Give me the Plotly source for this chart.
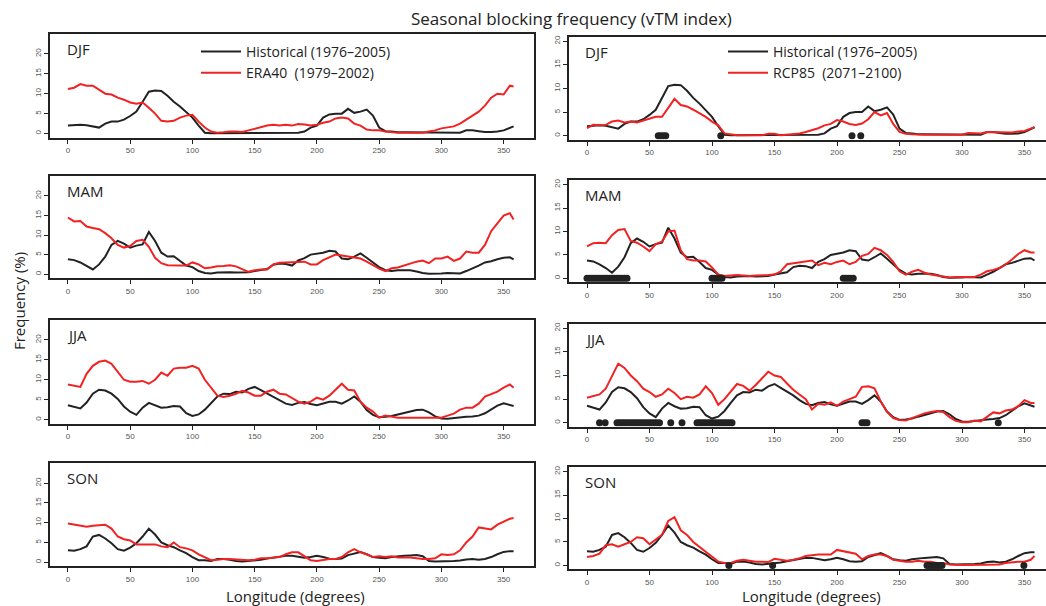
import plotly.graph_objects as go

# ---------------- data ----------------
seasons = ["DJF", "MAM", "JJA", "SON"]
lon = list(range(0, 360, 5)) + [358]
xticks = [0, 50, 100, 150, 200, 250, 300, 350]
yticks = [0, 5, 10, 15, 20]

hist_djf = [2, 2.1, 2.2, 2.1, 1.8, 1.5, 2.5, 3, 3, 3.5, 4.4, 5.5,
            8, 10.5, 10.8, 10.7, 9.5, 8, 6.8, 5.5, 4, 2, 0.2, 0.1,
            0.1, 0.1, 0.1, 0.1, 0.1, 0.1, 0.1, 0.1, 0.1, 0.1, 0.1, 0.1,
            0.1, 0.2, 0.5, 1.5, 2, 4, 4.8, 5, 5, 6.2, 5.2, 5.5,
            6, 4.5, 1.5, 0.6, 0.5, 0.3, 0.3, 0.3, 0.3, 0.3, 0.3, 0.3,
            0.3, 0.3, 0.2, 0.2, 0.8, 0.8, 0.6, 0.4, 0.4, 0.5, 0.8, 1.5,
            1.8]
era_djf = [11.2, 11.5, 12.4, 12, 12, 11, 10, 9.8, 9, 8.5, 7.8, 7.5,
           7.8, 6.5, 5, 3.2, 3, 3.2, 4, 4.5, 4.7, 3, 1.5, 0.5,
           0.2, 0.3, 0.5, 0.5, 0.4, 0.8, 1.2, 1.5, 2, 2.2, 2, 2.2,
           2, 2.4, 2.3, 2, 2.2, 2.7, 3, 3.8, 4, 3.8, 2.5, 2,
           1, 0.8, 0.8, 0.5, 0.3, 0.2, 0.2, 0.2, 0.2, 0.2, 0.5, 0.8,
           1.3, 1.5, 1.8, 2.5, 3.5, 4.5, 5.5, 7, 9, 10, 9.8, 12,
           11.8]
rcp_djf = [1.6, 2.3, 2.2, 2.3, 3, 3.2, 2.8, 3, 2.8, 3.2, 3.5, 4,
           4, 6, 7.8, 6.5, 6.2, 5.5, 4.8, 4, 3, 2.2, 0.5, 0.3,
           0.1, 0.1, 0.1, 0.1, 0.1, 0.4, 0.4, 0.1, 0.2, 0.3, 0.5, 0.8,
           1.2, 1.6, 2.2, 2.5, 3.3, 3, 2.5, 2.3, 2.6, 3.5, 5, 4.3,
           4.8, 2.5, 0.8, 0.4, 0.3, 0.2, 0.2, 0.2, 0.2, 0.2, 0.2, 0.2,
           0.2, 0.6, 0.5, 0.5, 0.8, 0.8, 0.8, 0.7, 0.7, 0.9, 1, 1.5,
           1.8]

hist_mam = [3.8, 3.6, 3, 2.2, 1.2, 2.5, 4.5, 7.5, 8.5, 7.8, 6.8, 7.3,
            7.6, 10.8, 8.5, 5.5, 4.5, 4.6, 3.5, 2.2, 1.8, 0.8, 0.3, 0.2,
            0.4, 0.5, 0.5, 0.4, 0.5, 0.5, 0.8, 1.1, 1.3, 2.4, 2.7, 2.6,
            2.2, 3.5, 4.1, 5, 5.3, 5.5, 6, 5.8, 4, 3.8, 4.5, 5.3,
            4.2, 3, 1.8, 1, 0.8, 1, 1, 1, 0.7, 0.3, 0.1, 0.1,
            0.2, 0.3, 0.2, 0.2, 0.8, 1.4, 2.2, 3, 3.3, 3.8, 4.2, 4.3,
            3.8]
era_mam = [14.5, 13.5, 13.6, 12.2, 11.8, 11.5, 10.5, 9.2, 7.5, 6.8, 7.2, 8.5,
           8.8, 7, 4.2, 2.8, 2.3, 2.2, 2.2, 2.2, 3, 2.5, 1.5, 1.7,
           2, 2.1, 2.3, 2, 1.3, 0.6, 1, 1.2, 1.2, 2.5, 2.9, 3,
           3, 3.2, 3.2, 2.5, 2.5, 3.6, 4.2, 5, 4.8, 4.5, 4.3, 4,
           3.2, 2.2, 1.4, 0.8, 1.5, 1.7, 2.2, 2.7, 3.2, 3.5, 2.8, 4,
           4, 4.5, 3.4, 4, 5.8, 5.5, 5.5, 7.5, 11, 13, 15, 15.6,
           14]
rcp_mam = [6.8, 7.5, 7.6, 7.5, 9.2, 10.3, 10.5, 8, 7.6, 6.8, 5.8, 7.3,
           7.8, 10, 10.2, 6, 4.1, 3.8, 3.8, 3.6, 2.3, 0.8, 0.5, 0.6,
           0.7, 0.6, 0.5, 0.6, 0.6, 0.7, 0.8, 1.5, 3, 3.2, 3.4, 3.6,
           3.8, 2.8, 3.3, 3, 3.5, 3.8, 3, 3.5, 4.8, 5.2, 6.5, 6,
           5, 3.5, 1.5, 0.8, 1.4, 1.8, 1.2, 0.8, 0.6, 0.4, 0.2, 0.3,
           0.3, 0.3, 0.3, 0.8, 1.5, 1.8, 2.2, 3, 4, 5.2, 6, 5.5,
           5.5]

hist_jja = [3.6, 3.2, 2.8, 4.3, 6.5, 7.5, 7.3, 6.5, 5.2, 3.3, 2, 1.2,
            3, 4.2, 3.5, 3, 3.1, 3.4, 3.3, 1.6, 0.9, 1.3, 2.5, 4.2,
            5.8, 6.5, 6.4, 7, 6.8, 7.7, 8.2, 7.4, 6.6, 5.8, 4.8, 4,
            3.7, 4.2, 4.4, 3.9, 3.6, 4, 4.5, 4.5, 4, 4.8, 5.8, 4.5,
            2.4, 1.2, 0.6, 0.7, 0.9, 1.3, 1.7, 2.1, 2.4, 2.5, 1.8, 0.8,
            0.3, 0.2, 0.4, 0.6, 0.7, 0.8, 1, 1.6, 2.5, 3.5, 4.1, 3.6,
            3.4]
era_jja = [8.8, 8.5, 8.2, 11.5, 13.5, 14.5, 14.8, 14, 12, 10, 9.5, 9.5,
           9.7, 9, 10, 11.8, 11, 12.8, 13, 13, 13.5, 12.8, 10, 8,
           6, 5.7, 6, 6.5, 7.2, 6.8, 6, 6, 7, 7.5, 6.5, 6.3,
           5.5, 4.5, 4, 4.5, 5.5, 5, 6, 7.5, 9, 7.5, 7.3, 4.5,
           3, 2, 0.5, 1, 0.8, 0.5, 0.5, 0.5, 0.5, 0.5, 0.5, 0.5,
           0.5, 1, 1.5, 2.5, 3, 3, 4, 5.8, 6.5, 7, 8, 8.8,
           8]
rcp_jja = [5.3, 5.7, 6, 7.2, 10, 12.5, 11.6, 10, 8.8, 7.2, 6.5, 5.5,
           6, 7.2, 6.3, 5, 5.5, 5.3, 6, 7.7, 6.3, 3.8, 5, 6.5,
           8.2, 7.8, 6.8, 8, 9.5, 10.8, 10, 9.7, 8.3, 7, 6, 5,
           2.8, 4, 3.8, 4.3, 3.6, 4.5, 5, 5.5, 7.6, 7.7, 7.3, 4.5,
           2.3, 1, 0.6, 0.5, 1, 1.5, 2, 2.3, 2.5, 2.3, 1.2, 0.4,
           0.1, 0.1, 0.5, 0.3, 1.3, 2.2, 2, 2.6, 2.8, 3.5, 4.8, 4.2,
           4.2]

hist_son = [3, 2.9, 3.3, 4, 6.5, 6.9, 6, 4.8, 3.3, 2.9, 3.7, 4.8,
            6.5, 8.5, 7, 5, 4.3, 3.8, 3, 2.3, 1.3, 0.5, 0.5, 0.3,
            0.8, 0.8, 0.6, 0.3, 0.2, 0.3, 0.4, 0.6, 0.9, 1.1, 1.3, 1.6,
            1.6, 1.3, 1.1, 1.3, 1.6, 1.3, 0.9, 0.8, 0.9, 1.8, 2.2, 2.6,
            2, 1.3, 1.1, 1, 1.3, 1.5, 1.6, 1.7, 1.8, 1.5, 0.3, 0.2,
            0.2, 0.2, 0.3, 0.4, 0.7, 0.8, 0.6, 0.8, 1.3, 2, 2.6, 2.8,
            2.8]
era_son = [9.8, 9.5, 9.3, 9, 9.2, 9.3, 9.5, 8.5, 6.5, 5.8, 5.5, 4.5,
           4.5, 4.6, 4.5, 4, 3.8, 5, 3.8, 3.5, 3, 2, 1.2, 0.5,
           0.6, 0.8, 0.8, 0.7, 0.5, 0.5, 0.6, 1, 1, 1.2, 1.3, 2,
           2.5, 2.5, 1.5, 0.5, 0.3, 0.5, 0.8, 0.8, 1.3, 2.5, 3.3, 2.5,
           2, 1.3, 1.5, 1.3, 1.5, 1.2, 1.2, 1.2, 1, 0.8, 0.8, 1,
           2, 1.8, 2, 3, 5, 6.5, 8.8, 8.5, 8.3, 9.5, 10.2, 11,
           11.2]
rcp_son = [1.8, 2, 2.5, 4.3, 4.5, 4, 4.5, 5, 6, 5.8, 4.5, 5.5,
           6.5, 9.5, 10.3, 7.5, 6.5, 5, 4, 3, 2, 0.8, 0.5, 0.5,
           1, 1.2, 1, 0.8, 0.8, 0.7, 1.4, 1.2, 1, 1.2, 1.5, 2,
           2.2, 2.3, 2.3, 2.3, 3.3, 3, 2.8, 2.5, 1.3, 2, 2.3, 2.3,
           2, 1.2, 1, 0.8, 0.8, 1, 0.8, 0.8, 0.5, 0.5, 0.2, 0.1,
           0.1, 0.1, 0.1, 0.1, 0.1, 0.1, 0.2, 0.5, 0.7, 0.8, 0.8, 1.2,
           2]

# longitudes of significant differences (dots on the zero line)
sig_djf = [57, 59, 61, 63, 107, 212, 219]
sig_mam = [0, 2, 4, 6, 8, 10, 12, 14, 16, 18, 20, 22, 24, 26, 28, 30, 32,
           100, 102, 104, 106, 108, 205, 207, 209, 211, 213]
sig_jja = [10, 14.5, 24, 26, 28, 30, 32, 34, 36, 38, 40, 42, 44, 46, 48, 50,
           52, 54, 56, 58, 67, 76, 88, 90, 92, 94, 96, 98, 100, 102, 104, 106,
           108, 110, 112, 114, 116, 220, 222, 224, 329]
sig_son = [113.5, 148.5, 272, 274, 276, 278, 280, 282, 284, 349.5]

hist = [hist_djf, hist_mam, hist_jja, hist_son]
era = [era_djf, era_mam, era_jja, era_son]
rcp = [rcp_djf, rcp_mam, rcp_jja, rcp_son]
sig = [sig_djf, sig_mam, sig_jja, sig_son]

# ---------------- layout ----------------
W, H = 1046, 606
BLACK = "#222222"
RED = "#f02222"
FONT = "Open Sans"

rows_left = [(32, 136), (175, 277), (319, 423), (463, 566)]
rows_right = [(35, 138), (179, 281), (323, 426), (467, 569)]

fig = go.Figure()
layout = {}

for r in range(4):
    for c in range(2):
        i = r * 2 + c + 1
        xa = "x" if i == 1 else f"x{i}"
        ya = "y" if i == 1 else f"y{i}"
        top, bot = rows_left[r] if c == 0 else rows_right[r]
        xdom = [50 / W, 534 / W] if c == 0 else [569 / W, 1.0]
        xr = [-14.4, 374.4] if c == 0 else [-14.4, 367.2]
        yr = [-1.0, 25.0] if c == 0 else [-0.8, 20.9]
        common = dict(showgrid=False, zeroline=False, showline=True,
                      linewidth=2, linecolor=BLACK, ticks="outside",
                      ticklen=4, tickwidth=1, tickcolor=BLACK,
                      tickfont=dict(size=8, color="#555555", family="Liberation Sans"))
        layout["xaxis" if i == 1 else f"xaxis{i}"] = dict(
            domain=xdom, range=xr, anchor=ya, tickvals=xticks,
            mirror=True, **common)
        layout["yaxis" if i == 1 else f"yaxis{i}"] = dict(
            domain=[1 - bot / H, 1 - top / H], range=yr, anchor=xa,
            tickvals=yticks, tickangle=-90, mirror=(c == 0), **common)

        first = (r == 0)
        leg = "legend" if c == 0 else "legend2"
        fig.add_trace(go.Scatter(
            x=lon, y=hist[r], mode="lines", xaxis=xa, yaxis=ya,
            line=dict(color=BLACK, width=2), name="Historical (1976\u20132005)",
            showlegend=first, legend=leg))
        if c == 0:
            fig.add_trace(go.Scatter(
                x=lon, y=era[r], mode="lines", xaxis=xa, yaxis=ya,
                line=dict(color=RED, width=2), name="ERA40  (1979\u20132002)",
                showlegend=first, legend=leg))
        else:
            fig.add_trace(go.Scatter(
                x=lon, y=rcp[r], mode="lines", xaxis=xa, yaxis=ya,
                line=dict(color=RED, width=2), name="RCP85  (2071\u20132100)",
                showlegend=first, legend=leg))
            fig.add_trace(go.Scatter(
                x=sig[r], y=[0] * len(sig[r]), mode="markers", xaxis=xa, yaxis=ya,
                marker=dict(color=BLACK, size=7), showlegend=False,
                cliponaxis=False))

annotations = []
for r in range(4):
    for c in range(2):
        top = rows_left[r][0] if c == 0 else rows_right[r][0]
        xpx = 65 if c == 0 else 583
        annotations.append(dict(
            text=seasons[r], x=xpx / W, y=1 - (top + 15) / H,
            xref="paper", yref="paper", xanchor="left", yanchor="middle",
            showarrow=False, font=dict(size=15, color=BLACK, family=FONT)))

annotations.append(dict(text="Seasonal blocking frequency (vTM index)",
                        x=571 / W, y=1 - 17 / H, xref="paper", yref="paper",
                        xanchor="center", yanchor="middle",
                        showarrow=False, font=dict(size=17, color=BLACK, family=FONT)))
annotations.append(dict(text="Frequency (%)", x=19 / W, y=1 - 300 / H,
                        xref="paper", yref="paper", textangle=-90,
                        xanchor="center", yanchor="middle",
                        showarrow=False, font=dict(size=15, color=BLACK, family=FONT)))
for xc in (295, 811):
    annotations.append(dict(text="Longitude (degrees)", x=xc / W, y=1 - 596 / H,
                            xref="paper", yref="paper", xanchor="center",
                            yanchor="middle", showarrow=False,
                            font=dict(size=15, color=BLACK, family=FONT)))

fig.update_layout(
    width=W, height=H, margin=dict(l=0, r=0, t=0, b=0),
    paper_bgcolor="white", plot_bgcolor="white",
    annotations=annotations,
    legend=dict(x=196 / W, y=1 - 34 / H, xanchor="left", yanchor="top",
                itemwidth=40,
                bgcolor="rgba(0,0,0,0)", font=dict(size=14, color=BLACK, family=FONT)),
    legend2=dict(x=723 / W, y=1 - 34 / H, xanchor="left", yanchor="top",
                 itemwidth=40,
                 bgcolor="rgba(0,0,0,0)", font=dict(size=14, color=BLACK, family=FONT)),
    **layout)

fig.write_html("out.html",
               config={"displayModeBar": False},
               post_script="document.body.style.margin='0px';document.body.style.overflow='hidden';")
